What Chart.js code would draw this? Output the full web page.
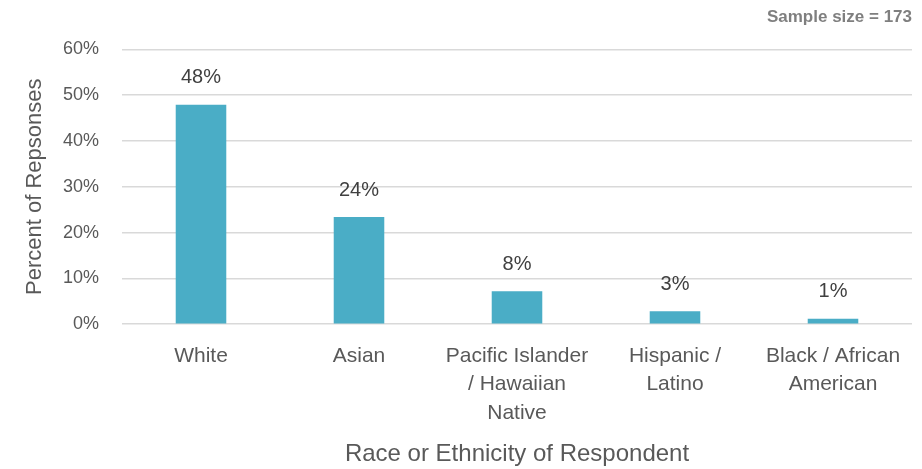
<!DOCTYPE html>
<html>
<head>
<meta charset="utf-8">
<script src="https://cdn.jsdelivr.net/npm/chart.js@4/dist/chart.umd.min.js"></script>
<style>
  html, body { margin: 0; padding: 0; background: #fff; }
  #wrap { width: 922px; height: 469px; position: relative; }
</style>
</head>
<body>
<div id="wrap"><canvas id="chart"></canvas></div>
<script>
'use strict';

// ── Data ────────────────────────────────────────────────
const categories = [
  'White',
  'Asian',
  ['Pacific Islander', '/ Hawaiian', 'Native'],
  ['Hispanic /', 'Latino'],
  ['Black / African', 'American'],
];
const percents    = [47.9, 23.4, 7.2, 2.8, 1.2];
const valueLabels = ['48%', '24%', '8%', '3%', '1%'];
const yTicks      = [0, 10, 20, 30, 40, 50, 60];

const FONT = "'Liberation Sans', Arial, sans-serif";

// ── Value labels above bars ─────────────────────────────
const barLabels = {
  id: 'barLabels',
  afterDatasetsDraw(chart) {
    const { ctx } = chart;
    const meta = chart.getDatasetMeta(0);
    ctx.save();
    ctx.font = `20px ${FONT}`;
    ctx.fillStyle = '#404040';
    ctx.textAlign = 'center';
    ctx.textBaseline = 'middle';
    meta.data.forEach((bar, i) => {
      ctx.fillText(valueLabels[i], bar.x, bar.y - 27);
    });
    ctx.restore();
  },
};

new Chart(document.getElementById('chart'), {
  type: 'bar',
  data: {
    labels: categories,
    datasets: [{
      data: percents,
      backgroundColor: '#4aadc6',
      categoryPercentage: 1,
      barPercentage: 0.32,
    }],
  },
  plugins: [barLabels],
  options: {
    responsive: true,
    maintainAspectRatio: false,
    animation: false,
    layout: { padding: { left: 10, right: 10, bottom: 0 } },
    plugins: {
      legend: { display: false },
      tooltip: { enabled: false },
      title: {
        display: true,
        text: 'Sample size = 173',
        align: 'end',
        color: '#7f7f7f',
        font: { family: FONT, size: 17, weight: 'bold' },
        padding: { top: 7, bottom: 22 },
      },
    },
    scales: {
      x: {
        grid: { display: false, drawTicks: false },
        border: { display: false },
        ticks: {
          color: '#595959',
          font: { family: FONT, size: 21, lineHeight: 1.35 },
          maxRotation: 0,
          autoSkip: false,
          padding: 18,
        },
        title: {
          display: true,
          text: 'Race or Ethnicity of Respondent',
          color: '#595959',
          font: { family: FONT, size: 24 },
          padding: { top: -5, bottom: 0 },
        },
      },
      y: {
        min: 0, max: 60,
        afterBuildTicks: axis => { axis.ticks = yTicks.map(v => ({ value: v })); },
        afterFit: axis => { axis.width = 112; },
        grid: { color: '#d9d9d9', lineWidth: 1.5, drawTicks: false },
        border: { display: false },
        ticks: {
          color: '#595959',
          font: { family: FONT, size: 18 },
          padding: 23,
          callback: v => v + '%',
        },
        title: {
          display: true,
          text: 'Percent of Repsonses',
          color: '#595959',
          font: { family: FONT, size: 22 },
          padding: { top: 12, bottom: 0 },
        },
      },
    },
  },
});
</script>
</body>
</html>
